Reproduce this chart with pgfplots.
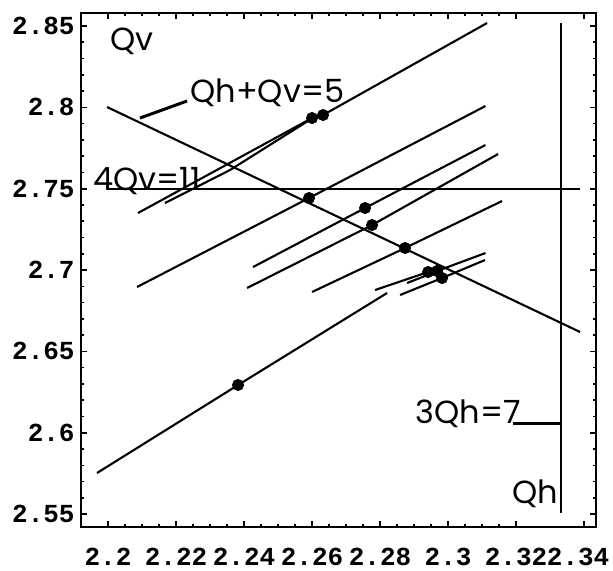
\documentclass[border=0pt]{standalone}
\usepackage{fontspec}
\setmainfont{Poppins}
\setmonofont{Liberation Mono}
\usepackage{pgfplots}
\pgfplotsset{compat=1.18}
\begin{document}
\begin{tikzpicture}
\path[use as bounding box] (-40.5pt,-21.5pt) rectangle (266pt,263.5pt);
\begin{axis}[
  at={(0,0)}, anchor=south west,
  scale only axis, width=257.5pt, height=257pt,
  xmin=2.19206, xmax=2.3435, ymin=2.54207, ymax=2.858,
  axis line style={line width=1.2pt},
  xtick={2.2,2.22,2.24,2.26,2.28,2.3,2.32},
  xticklabels={2.2,2.22,2.24,2.26,2.28,2.3,2.32},
  extra x ticks={2.34},
  extra x tick labels={2.34},
  extra x tick style={xticklabel style={xshift=-3pt}},
  ytick={2.55,2.6,2.65,2.7,2.75,2.8,2.85},
  yticklabels={2.55,2.6,2.65,2.7,2.75,2.8,2.85},
  minor x tick num=3, minor y tick num=4,
  tick align=inside, major tick length=3pt, minor tick length=1.5pt,
  tick style={line width=0.8pt, black},
  xticklabel style={font=\fontsize{13}{13}\selectfont\ttfamily\bfseries, anchor=base, inner sep=0pt, yshift=-19pt},
  yticklabel style={font=\fontsize{13}{13}\selectfont\ttfamily\bfseries, anchor=east, inner sep=0pt, xshift=-3pt},
  ln/.style={black, solid, line width=1.05pt, mark=none},
  clip=false,
]
% constraint lines
\addplot[ln] coordinates {(2.19971,2.80022) (2.33882,2.66192)};
\addplot[ln] coordinates {(2.19971,2.75) (2.33882,2.75)};
\addplot[ln] coordinates {(2.33333,2.852) (2.33333,2.5507)};
% callout connectors
\addplot[ln, line width=1.5pt] coordinates {(2.20941,2.79345) (2.22324,2.8039)};
\addplot[ln, line width=1.5pt] coordinates {(2.31912,2.606) (2.33294,2.606)};
% search paths
\addplot[ln] coordinates {(2.20882,2.73506) (2.26,2.79345) (2.26324,2.7953) (2.31147,2.85184)};
\addplot[ln] coordinates {(2.21676,2.74121) (2.23588,2.76149) (2.2597,2.7928)};
\addplot[ln] coordinates {(2.20853,2.68958) (2.25912,2.74429) (2.311,2.80083)};
\addplot[ln] coordinates {(2.24265,2.70187) (2.27559,2.73814) (2.311,2.77686)};
\addplot[ln] coordinates {(2.24088,2.68897) (2.27765,2.72769) (2.31471,2.77133)};
\addplot[ln] coordinates {(2.26,2.68651) (2.28735,2.71355) (2.31588,2.74244)};
\addplot[ln] coordinates {(2.19676,2.57526) (2.23824,2.62935) (2.28206,2.6859)};
\addplot[ln] coordinates {(2.27853,2.68774) (2.29412,2.6988) (2.29676,2.69941) (2.311,2.71048)};
\addplot[ln] coordinates {(2.28588,2.68467) (2.29824,2.69511) (2.31088,2.70618)};
\addplot[ln] coordinates {(2.28794,2.69204) (2.29765,2.7)};
% dots
\addplot[only marks, black, mark=*, mark size=2.8pt] coordinates {
(2.26,2.79345) (2.26324,2.7953) (2.25912,2.74429) (2.27559,2.73814)
(2.27765,2.72769) (2.28735,2.71355) (2.29412,2.6988) (2.29676,2.69941)
(2.29824,2.69511) (2.23824,2.62935)};
% labels
\node[anchor=base west, inner sep=0pt, font=\fontsize{16}{16}\selectfont] at (axis cs:2.20059,2.83525) {Qv};
\node[anchor=base west, inner sep=0pt, font=\fontsize{16}{16}\selectfont] at (axis cs:2.22412,2.80329) {Qh+Qv=5};
\node[anchor=base west, inner sep=0pt, font=\fontsize{16}{16}\selectfont] at (axis cs:2.19559,2.7492) {4Qv=11};
\node[anchor=base west, inner sep=0pt, font=\fontsize{16}{16}\selectfont] at (axis cs:2.2903,2.606) {3Qh=7};
\node[anchor=base west, inner sep=0pt, font=\fontsize{16}{16}\selectfont] at (axis cs:2.31882,2.55682) {Qh};
\end{axis}
\end{tikzpicture}
\end{document}
